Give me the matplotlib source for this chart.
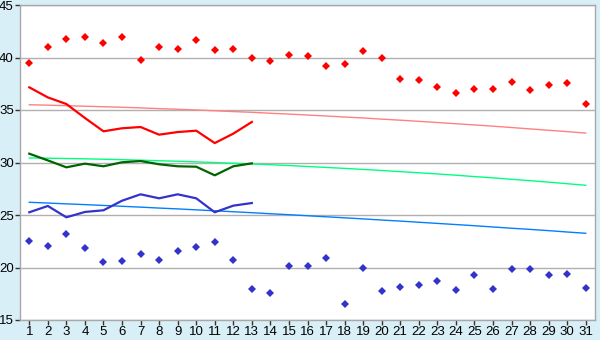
import numpy as np
import matplotlib
matplotlib.use('Agg')
import matplotlib.pyplot as plt

plt.rcParams['font.family'] = ['Liberation Sans', 'DejaVu Sans']

# dias del mes
dias = list(range(1, 32))

# maximas y minimas diarias (puntos)
maximas = [39.44, 40.97, 41.73, 42.0, 41.35, 42.0, 39.73, 40.97, 40.78, 41.64,
           40.68, 40.78, 40.0, 39.63, 40.2, 40.11, 39.16, 39.35, 40.59, 39.92,
           37.92, 37.83, 37.16, 36.59, 36.97, 36.97, 37.64, 36.87, 37.35, 37.54,
           35.54]
minimas = [22.5, 22.02, 23.16, 21.83, 20.5, 20.59, 21.26, 20.69, 21.54, 21.92,
           22.4, 20.69, 17.92, 17.54, 20.11, 20.11, 20.88, 16.49, 19.92, 17.73,
           18.11, 18.3, 18.69, 17.83, 19.26, 17.92, 19.83, 19.83, 19.26, 19.35,
           18.02]

# normales climaticas
normal_max = [35.50, 35.46, 35.41, 35.36, 35.31, 35.26, 35.20, 35.13, 35.07, 35.00,
              34.93, 34.85, 34.78, 34.69, 34.61, 34.52, 34.43, 34.33, 34.24, 34.13,
              34.03, 33.92, 33.81, 33.69, 33.58, 33.46, 33.33, 33.20, 33.07, 32.94,
              32.80]
normal_med = [30.43, 30.41, 30.38, 30.35, 30.31, 30.27, 30.22, 30.17, 30.12, 30.06,
              30.00, 29.93, 29.86, 29.79, 29.71, 29.62, 29.53, 29.44, 29.34, 29.24,
              29.13, 29.02, 28.91, 28.79, 28.66, 28.54, 28.40, 28.27, 28.13, 27.98,
              27.83]
normal_min = [26.21, 26.14, 26.06, 25.99, 25.91, 25.83, 25.75, 25.66, 25.58, 25.49,
              25.40, 25.31, 25.22, 25.12, 25.03, 24.93, 24.83, 24.73, 24.63, 24.52,
              24.42, 24.31, 24.20, 24.09, 23.98, 23.86, 23.74, 23.63, 23.51, 23.38,
              23.26]

# medias (primeros 13 dias)
dias_med = list(range(1, 14))
media_max = [37.16, 36.2, 35.57, 34.24, 32.97, 33.26, 33.38, 32.65, 32.9, 33.03,
             31.85, 32.75, 33.86]
media_med = [30.84, 30.2, 29.54, 29.89, 29.64, 30.02, 30.14, 29.83, 29.64, 29.6,
             28.78, 29.64, 29.92]
media_min = [25.26, 25.86, 24.78, 25.29, 25.45, 26.36, 26.97, 26.59, 26.97, 26.59,
             25.26, 25.89, 26.14]

fondo = '#d9eff7'
fig = plt.figure(figsize=(6, 3.4), dpi=100, facecolor=fondo)
ax = fig.add_axes([20/600, 20/340, 575/600, 315/340])
ax.set_facecolor('white')

ax.plot(dias, normal_max, color='#ff8080', lw=1.0, zorder=2)
ax.plot(dias, normal_med, color='#00ff80', lw=1.0, zorder=2)
ax.plot(dias, normal_min, color='#0080ff', lw=1.0, zorder=2)

ax.plot(dias_med, media_max, color='#ff0000', lw=1.6, zorder=3)
ax.plot(dias_med, media_med, color='#006400', lw=1.6, zorder=3)
ax.plot(dias_med, media_min, color='#3333cc', lw=1.6, zorder=3)

ax.plot(dias, maximas, 'D', color='#ff0000', ms=3.8, mew=0, zorder=4)
ax.plot(dias, minimas, 'D', color='#3333cc', ms=3.8, mew=0, zorder=4)

ax.set_xlim(0.5, 31.5)
ax.set_ylim(15, 45)
ax.set_xticks(dias)
ax.set_yticks([15, 20, 25, 30, 35, 40, 45])
ax.yaxis.grid(True, color='#b0b0b0', lw=1.0)
ax.set_axisbelow(True)
for s in ax.spines.values():
    s.set_color('#a8a8a8')
    s.set_linewidth(1.0)
ax.tick_params(axis='both', colors='#333333', labelcolor='black', labelsize=9.5,
               length=3.5, width=1, pad=1)

fig.savefig('out.png', dpi=100, facecolor=fondo)
